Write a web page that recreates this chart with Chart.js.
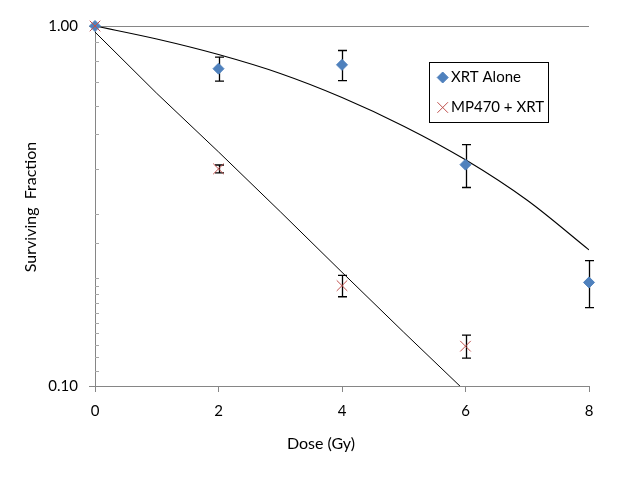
<!DOCTYPE html>
<html>
<head>
<meta charset="utf-8">
<script src="https://cdn.jsdelivr.net/npm/chart.js@4.4.0/dist/chart.umd.min.js"></script>
<style>
  html, body { margin: 0; padding: 0; background: #fff; }
</style>
</head>
<body>
<canvas id="chart_survival" width="627" height="479"></canvas>
<script>
// measured points (dose in Gy, surviving fraction)
let doses = [0, 2, 4, 6, 8]
let xrtAlone = [1.00, 0.761, 0.780, 0.412, 0.194]
let xrtAloneErr = [0, 0.058, 0.075, 0.056, 0.029]

let mpDoses = [0, 2, 4, 6]
let mpXrt = [1.00, 0.401, 0.190, 0.129]
let mpXrtErr = [0, 0.010, 0.013, 0.0095]

// fitted curves
let fitDoses = [0, 1, 2, 3, 4, 5, 6, 7, 8]
let xrtFit = [1.00, 0.920, 0.833, 0.738, 0.633, 0.527, 0.425, 0.328, 0.2388]
let mpFitDoses = [0, 1, 2, 3, 4, 5, 6]
let mpFit = [0.962, 0.650, 0.447, 0.305, 0.207, 0.141, 0.0966]

let yTickLabels = {1: '1.00', 0.1: '0.10'}

Chart.defaults.font.family = 'Lato'
Chart.defaults.font.size = 15
Chart.defaults.color = '#000'

const axisGray = '#868686'

function toPoints(xs, ys){
    return xs.map((x, i) => ({x: x, y: ys[i]}))
}

function near(a, b){
    return Math.abs(a - b) < 1e-6
}

function drawErrors(chart, xs, ys, errs){
    let ctx = chart.ctx
    let xScale = chart.scales.x
    let yScale = chart.scales.y
    ctx.save()
    ctx.strokeStyle = '#000'
    ctx.lineWidth = 1.3
    xs.forEach((d, i) => {
        if(!errs[i]) return
        let px = Math.round(xScale.getPixelForValue(d)) + 0.5
        let top = yScale.getPixelForValue(ys[i] + errs[i])
        let bottom = yScale.getPixelForValue(ys[i] - errs[i])
        ctx.beginPath()
        ctx.moveTo(px, top); ctx.lineTo(px, bottom)
        ctx.moveTo(px - 4.5, top); ctx.lineTo(px + 4.5, top)
        ctx.moveTo(px - 4.5, bottom); ctx.lineTo(px + 4.5, bottom)
        ctx.stroke()
    })
    ctx.restore()
}

const extras = {
    id: 'extras',
    beforeDatasetsDraw(chart){
        let ctx = chart.ctx
        let yScale = chart.scales.y
        let left = chart.chartArea.left
        // little inside ticks for the minor log values
        ctx.save()
        ctx.strokeStyle = '#a6a6a6'
        ctx.lineWidth = 1
        yScale.ticks.forEach(t => {
            if(near(t.value, 1) || near(t.value, 0.1)) return
            let py = Math.round(yScale.getPixelForValue(t.value)) + 0.5
            ctx.beginPath()
            ctx.moveTo(left, py); ctx.lineTo(left + 4, py)
            ctx.stroke()
        })
        ctx.restore()
        drawErrors(chart, doses, xrtAlone, xrtAloneErr)
        drawErrors(chart, mpDoses, mpXrt, mpXrtErr)
    },
    afterDraw(chart){
        let ctx = chart.ctx
        ctx.save()
        ctx.fillStyle = '#000'
        ctx.font = '16px Lato'
        ctx.textAlign = 'center'
        ctx.textBaseline = 'middle'
        ctx.fillText('Dose (Gy)', 321, 444)
        ctx.translate(31, 207)
        ctx.rotate(-Math.PI / 2)
        ctx.fillText('Surviving  Fraction', 0, 0)
        ctx.restore()

        // legend box inside the plot
        ctx.save()
        ctx.fillStyle = '#fff'
        ctx.fillRect(429.5, 62.5, 119, 60)
        ctx.strokeStyle = '#000'
        ctx.lineWidth = 1
        ctx.strokeRect(429.5, 62.5, 119, 60)
        let sets = chart.data.datasets
        let rows = [77.5, 107.5]
        ;[0, 1].forEach((k, i) => {
            let ds = sets[k]
            ctx.fillStyle = ds.backgroundColor
            ctx.strokeStyle = ds.borderColor
            Chart.helpers.drawPoint(ctx, {
                pointStyle: ds.pointStyle,
                radius: ds.pointRadius,
                borderWidth: ds.borderWidth,
                rotation: 0
            }, 442.7, rows[i])
            ctx.fillStyle = '#000'
            ctx.font = '15px Lato'
            ctx.textAlign = 'left'
            ctx.textBaseline = 'middle'
            ctx.fillText(ds.label, 451, rows[i])
        })
        ctx.restore()
    }
}

new Chart(document.getElementById('chart_survival'), {
    type: 'scatter',
    data: {
        datasets: [{
            label: 'XRT Alone',
            data: toPoints(doses, xrtAlone),
            pointStyle: 'rectRot',
            pointRadius: 5.5,
            backgroundColor: '#4F81BD',
            borderColor: '#4F81BD',
            borderWidth: 1,
            showLine: false,
            clip: false,
            order: 1
        }, {
            label: 'MP470 + XRT',
            data: toPoints(mpDoses, mpXrt),
            pointStyle: 'crossRot',
            pointRadius: 7.5,
            backgroundColor: '#C0504D',
            borderColor: '#C0504D',
            borderWidth: 1,
            showLine: false,
            clip: false,
            order: 0
        }, {
            label: 'XRT fit',
            data: toPoints(fitDoses, xrtFit),
            showLine: true,
            pointRadius: 0,
            borderColor: '#000',
            borderWidth: 1.1,
            cubicInterpolationMode: 'monotone',
            order: 2
        }, {
            label: 'MP470 fit',
            data: toPoints(mpFitDoses, mpFit),
            showLine: true,
            pointRadius: 0,
            borderColor: '#000',
            borderWidth: 1,
            order: 2
        }]
    },
    options: {
        responsive: false,
        animation: false,
        devicePixelRatio: 1,
        layout: { padding: { top: 26, right: 38, left: 0, bottom: 0 } },
        plugins: {
            legend: { display: false },
            tooltip: { enabled: false }
        },
        scales: {
            x: {
                type: 'linear',
                min: 0,
                max: 8,
                ticks: { stepSize: 2, padding: 10 },
                grid: {
                    drawOnChartArea: false,
                    drawTicks: true,
                    tickLength: 6,
                    color: axisGray
                },
                border: { color: axisGray },
                afterFit: scale => { scale.height = 93 }
            },
            y: {
                type: 'logarithmic',
                min: 0.1,
                max: 1,
                ticks: {
                    autoSkip: false,
                    padding: 11,
                    callback: value => {
                        if(near(value, 1)) return yTickLabels[1]
                        if(near(value, 0.1)) return yTickLabels[0.1]
                        return ''
                    }
                },
                grid: {
                    tickLength: 6,
                    color: c => (c.tick && near(c.tick.value, 1)) ? axisGray : 'rgba(0,0,0,0)',
                    tickColor: c => (c.tick && (near(c.tick.value, 1) || near(c.tick.value, 0.1))) ? axisGray : 'rgba(0,0,0,0)'
                },
                border: { color: axisGray },
                afterFit: scale => { scale.width = 95 }
            }
        }
    },
    plugins: [extras]
})
</script>
</body>
</html>
